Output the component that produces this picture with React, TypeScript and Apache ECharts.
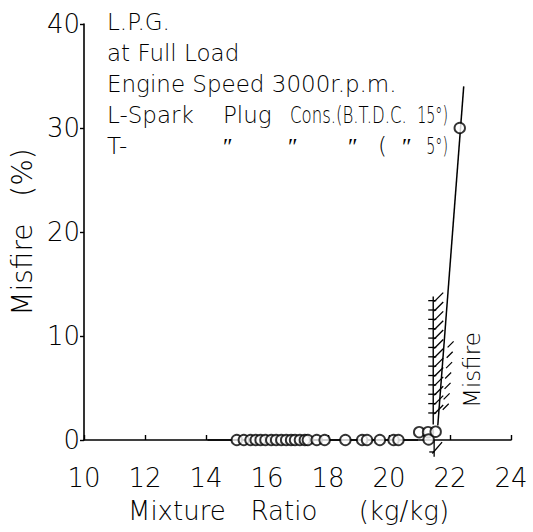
import React, { useEffect, useRef } from "react";
import * as echarts from "echarts";

// ---- data ----
const xTicks = [10, 12, 14, 16, 18, 20, 22, 24];
const yTicks = [0, 10, 20, 30, 40];

const legendLines = ["L.P.G.", "at Full Load", "Engine Speed 3000r.p.m."];

// circles on the 0 % line (mixture ratio, misfire %)
const baseRatio = [15.01, 15.24, 15.46, 15.63, 15.79, 15.95, 16.14, 16.3, 16.47, 16.63, 16.79, 16.92, 17.08, 17.24, 17.34, 17.63, 17.89, 18.57, 19.12, 19.28, 19.7, 20.15, 20.31];
const baseMisfire = [0, 0, 0, 0, 0, 0, 0, 0, 0, 0, 0, 0, 0, 0, 0, 0, 0, 0, 0, 0, 0, 0, 0];
// circles just before the misfire limit
const nearRatio = [20.99, 21.28, 21.3, 21.53];
const nearMisfire = [0.75, 0.75, 0.05, 0.8];
// misfire point
const highRatio = [22.32];
const highMisfire = [30];
// lines
const baseLine = [[14.05, 0], [20.95, 0]];
const limitLine = [[21.6, 1.4], [22.45, 34]];
// hatched misfire boundary
const hatchX = 21.45;
const hatchRange = [1.5, 13.8];
const hatchTickY = [13.4, 12.5, 11.6, 10.7, 9.8, 8.9, 8.0, 7.1, 6.2, 5.3, 4.4, 3.5, 2.6];
const dashHatch = [[22.02, 9.2], [21.99, 8.2], [21.97, 7.2], [21.94, 6.2], [21.92, 5.2], [21.89, 4.2], [21.86, 3.2]];
const crossVertical = [[21.48, 0], [21.48, -1.6]];
const crossTick = [[21.32, -1.15], [21.48, -1.15]];
const crossDiag = [[21.42, -1.3], [21.74, -0.2]];

const FONT = "DejaVu Sans";
const BLACK = "#000";

function pairs(xs: number[], ys: number[]) {
  return xs.map((x, i) => [x, ys[i]]);
}

function lineSeries(data: number[][], width = 1.5) {
  return {
    type: "line",
    data,
    symbol: "none",
    clip: false,
    silent: true,
    lineStyle: { color: BLACK, width },
    z: 2,
  };
}

function circleSeries(data: number[][]) {
  return {
    type: "scatter",
    data,
    symbol: "circle",
    symbolSize: 10.5,
    clip: false,
    itemStyle: { color: "#fff", borderColor: BLACK, borderWidth: 1.9 },
    z: 5,
  };
}

function txt(text: string, x: number, y: number, extra: any = {}, styleExtra: any = {}) {
  return {
    type: "text",
    x,
    y,
    ...extra,
    style: {
      text,
      fill: BLACK,
      fontFamily: FONT,
      fontWeight: 300,
      fontSize: 23,
      textAlign: "left",
      textVerticalAlign: "middle",
      ...styleExtra,
    },
  };
}

export default function App() {
  const ref = useRef<HTMLDivElement>(null);
  useEffect(() => {
    const chart = echarts.init(ref.current!, null, { renderer: "svg" });
    const legendY = [22, 53, 84];
    const option: any = {
      animation: false,
      backgroundColor: "#fff",
      grid: { left: 79, right: 22, top: 24, bottom: 92 },
      xAxis: {
        type: "value",
        min: xTicks[0],
        max: xTicks[xTicks.length - 1],
        interval: 2,
        offset: 17,
        splitLine: { show: false },
        axisLine: { lineStyle: { color: BLACK, width: 1.6 } },
        axisTick: { inside: true, length: 5, lineStyle: { color: BLACK, width: 1.4 } },
        axisLabel: {
          color: BLACK,
          fontFamily: FONT,
          fontWeight: 300,
          fontSize: 26,
          margin: 8,
          customValues: xTicks,
        },
        name: "Mixture\u00a0\u00a0\u00a0Ratio\u00a0\u00a0\u00a0\u00a0\u00a0(kg/kg)",
        nameLocation: "middle",
        nameGap: 41,
        nameTextStyle: { color: BLACK, fontFamily: FONT, fontWeight: 300, fontSize: 26, padding: [0, 18, 0, 0] },
      },
      yAxis: {
        type: "value",
        min: yTicks[0],
        max: yTicks[yTicks.length - 1],
        interval: 10,
        splitLine: { show: false },
        axisLine: { show: true, lineStyle: { color: BLACK, width: 1.6 } },
        axisTick: { show: true, length: 4, lineStyle: { color: BLACK, width: 1.4 } },
        axisLabel: { color: BLACK, fontFamily: FONT, fontWeight: 300, fontSize: 26, margin: 4 },
        name: "Misfire\u00a0\u00a0\u00a0(%)",
        nameLocation: "middle",
        nameRotate: 90,
        nameGap: 45,
        nameTextStyle: { color: BLACK, fontFamily: FONT, fontWeight: 300, fontSize: 28 },
      },
      series: [
        lineSeries(baseLine),
        lineSeries(limitLine, 1.5),
        lineSeries([[hatchX, hatchRange[0]], [hatchX, hatchRange[1]]], 1.4),
        lineSeries(crossVertical, 1.3),
        lineSeries(crossTick, 1.3),
        lineSeries(crossDiag, 1.3),
        {
          type: "custom",
          data: hatchTickY.map((y) => [hatchX, y]),
          clip: false,
          silent: true,
          renderItem: (params: any, api: any) => {
            const p = api.coord([api.value(0), api.value(1)]);
            const st = { stroke: BLACK, lineWidth: 1.3, fill: "none" };
            return {
              type: "group",
              children: [
                { type: "line", shape: { x1: p[0] - 5, y1: p[1], x2: p[0] + 3, y2: p[1] }, style: st },
                { type: "line", shape: { x1: p[0] + 1, y1: p[1] + 1, x2: p[0] + 10, y2: p[1] - 8 }, style: st },
              ],
            };
          },
          z: 3,
        },
        {
          type: "custom",
          data: dashHatch,
          clip: false,
          silent: true,
          renderItem: (params: any, api: any) => {
            const p = api.coord([api.value(0), api.value(1)]);
            return {
              type: "line",
              shape: { x1: p[0] - 3, y1: p[1] + 3, x2: p[0] + 3, y2: p[1] - 3 },
              style: { stroke: BLACK, lineWidth: 1.2, fill: "none" },
            };
          },
          z: 3,
        },
        circleSeries(pairs(baseRatio, baseMisfire)),
        circleSeries(pairs(nearRatio, nearMisfire)),
        circleSeries(pairs(highRatio, highMisfire)),
      ],
      graphic: [
        ...legendLines.map((t, i) => txt(t, 107, legendY[i])),
        // line 4
        txt("L-Spark", 107, 115),
        txt("Plug", 223, 115),
        txt("Cons.(B.T.D.C.", 290, 115, { scaleX: 0.72 }),
        txt("15°)", 448, 115, { scaleX: 0.62 }, { textAlign: "right" }),
        // line 5
        txt("T-", 107, 146),
        txt("″", 223, 146),
        txt("″", 288, 146),
        txt("″", 348, 146),
        txt("(", 378, 146),
        txt("″", 402, 146),
        txt("5°)", 448, 146, { scaleX: 0.62 }, { textAlign: "right" }),
        // Misfire region label
        txt("Misfire", 472, 370, { rotation: Math.PI / 2 }, { textAlign: "center" }),
      ],
    };
    chart.setOption(option);
    return () => chart.dispose();
  }, []);
  return <div ref={ref} style={{ position: "absolute", left: 0, top: 0, width: 533, height: 532 }} />;
}
